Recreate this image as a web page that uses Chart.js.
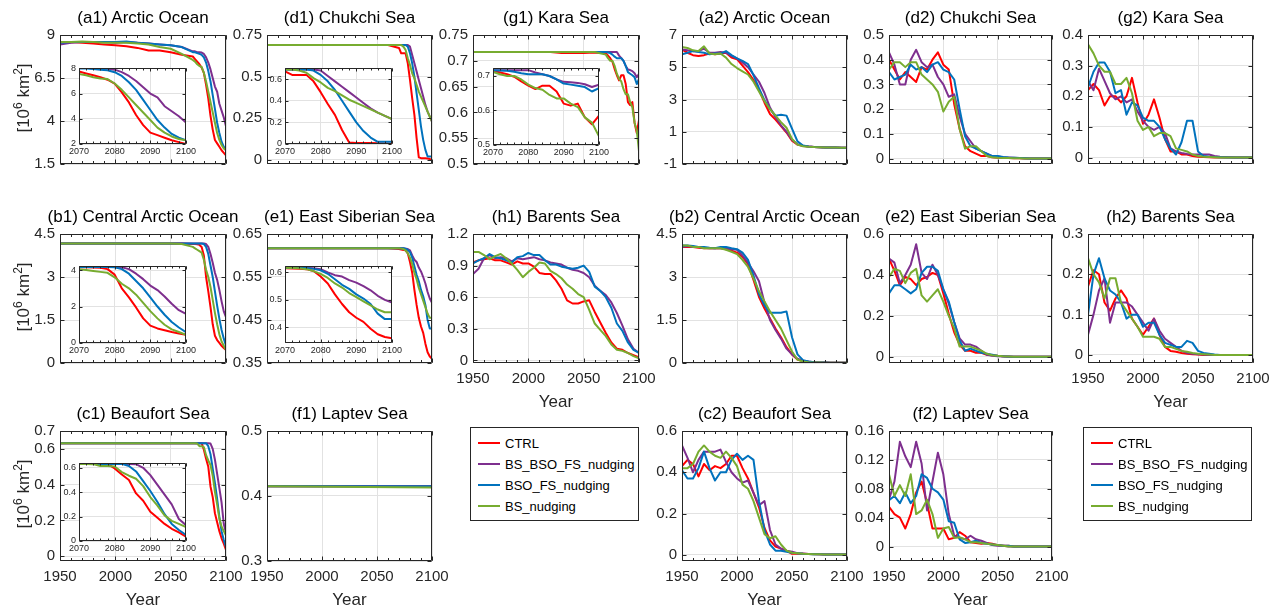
<!DOCTYPE html>
<html><head><meta charset="utf-8">
<script src="https://cdn.jsdelivr.net/npm/chart.js@4.4.1/dist/chart.umd.min.js"></script>
<style>
html,body{margin:0;padding:0;background:#fff;}
body{width:1279px;height:610px;position:relative;overflow:hidden;font-family:"Liberation Sans",Arial,Helvetica,sans-serif;}
canvas{position:absolute;}
.txt{position:absolute;white-space:nowrap;transform:translateX(-50%);}
.ylab{position:absolute;white-space:nowrap;transform:translate(-50%,-50%) rotate(-90deg);font-size:17px;line-height:17px;color:#262626;}
.sup{font-size:12px;position:relative;top:-7px;}
.leg{position:absolute;box-sizing:border-box;border:1px solid #262626;background:#fff;width:169px;height:94px;}
.leg .sw{position:absolute;left:7px;width:22px;height:2px;}
.leg .lt{position:absolute;left:34px;font-size:13px;line-height:13px;color:#000;white-space:nowrap;}
</style></head><body>
<script>
// ---------------- data ----------------
const SERIES_NAMES = ['CTRL','BS_BSO_FS_nudging','BSO_FS_nudging','BS_nudging'];
const SERIES_COLORS = ['#FF0000','#7E2F8E','#0072BD','#77AC30'];

const YEARS_A = [1950,1960,1970,1980,1990,2000,2010,2020,2030,2040,2050,2060,2070,2072,2074,2076,2078,2080,2082,2084,2086,2088,2090,2092,2094,2096,2098,2100];
const YEARS_B = [1950,1955,1960,1965,1970,1975,1980,1985,1990,1995,2000,2005,2010,2015,2020,2025,2030,2035,2040,2045,2050,2055,2060,2065,2070,2075,2080,2085,2090,2095,2100];
const YEARS_F = [1950,2100];

// (a1) Arctic Ocean
const a1_CTRL = [8.55,8.6,8.55,8.5,8.45,8.4,8.35,8.25,8.1,8.1,8.0,7.85,7.75,7.6,7.45,7.3,7.1,6.8,6.1,5.3,4.3,3.5,2.9,2.7,2.5,2.3,2.15,2.0];
const a1_BBF  = [8.45,8.55,8.6,8.6,8.6,8.55,8.6,8.55,8.5,8.45,8.4,8.3,8.05,8.05,8.0,8.0,7.98,7.9,7.7,7.4,7.0,6.5,6.0,5.7,5.0,4.6,4.2,3.7];
const a1_BF   = [8.55,8.6,8.6,8.6,8.6,8.6,8.62,8.55,8.5,8.45,8.4,8.3,8.0,8.0,7.95,7.9,7.85,7.7,7.4,6.9,6.3,5.5,4.7,3.9,3.3,2.8,2.5,2.3];
const a1_BS   = [8.6,8.6,8.62,8.6,8.55,8.55,8.55,8.5,8.45,8.3,8.2,7.9,7.55,7.45,7.3,7.2,7.15,6.8,6.3,5.7,5.1,4.5,3.9,3.3,2.9,2.6,2.4,2.3];
// (d1) Chukchi Sea
const d1_CTRL = [0.69,0.69,0.69,0.69,0.69,0.69,0.69,0.69,0.69,0.69,0.69,0.69,0.672,0.64,0.64,0.64,0.58,0.48,0.37,0.27,0.13,0.015,0.01,0.01,0.01,0.008,0.005,0.003];
const d1_BBF  = [0.69,0.69,0.69,0.69,0.69,0.69,0.69,0.69,0.69,0.69,0.69,0.69,0.69,0.69,0.69,0.69,0.69,0.68,0.63,0.58,0.53,0.48,0.43,0.38,0.33,0.29,0.26,0.23];
const d1_BF   = [0.69,0.69,0.69,0.69,0.69,0.69,0.69,0.69,0.69,0.69,0.69,0.69,0.69,0.69,0.69,0.69,0.68,0.64,0.58,0.5,0.4,0.3,0.2,0.12,0.06,0.02,0.02,0.02];
const d1_BS   = [0.69,0.69,0.69,0.69,0.69,0.69,0.69,0.69,0.69,0.69,0.69,0.69,0.69,0.69,0.68,0.66,0.61,0.57,0.52,0.49,0.45,0.41,0.38,0.35,0.32,0.29,0.26,0.23];
// (g1) Kara Sea
const g1_CTRL = [0.717,0.717,0.717,0.717,0.717,0.717,0.717,0.717,0.715,0.715,0.715,0.716,0.715,0.71,0.705,0.698,0.684,0.672,0.662,0.672,0.672,0.655,0.62,0.614,0.62,0.58,0.56,0.585];
const g1_BBF  = [0.717,0.717,0.717,0.717,0.717,0.717,0.717,0.717,0.717,0.717,0.717,0.717,0.717,0.717,0.717,0.717,0.717,0.717,0.71,0.705,0.70,0.69,0.683,0.682,0.68,0.676,0.668,0.675];
const g1_BF   = [0.717,0.717,0.717,0.717,0.717,0.717,0.717,0.717,0.717,0.717,0.717,0.717,0.717,0.716,0.715,0.712,0.708,0.705,0.705,0.705,0.70,0.69,0.678,0.675,0.672,0.668,0.655,0.665];
const g1_BS   = [0.717,0.717,0.717,0.717,0.717,0.717,0.717,0.717,0.717,0.717,0.717,0.717,0.712,0.705,0.70,0.70,0.69,0.675,0.665,0.66,0.645,0.635,0.635,0.62,0.61,0.58,0.565,0.525];
// (b1) Central Arctic Ocean
const b1_CTRL = [4.17,4.17,4.17,4.17,4.17,4.17,4.17,4.17,4.17,4.17,4.17,4.17,4.15,4.15,4.14,4.12,4.05,3.75,3.0,2.5,1.95,1.35,0.95,0.8,0.7,0.6,0.52,0.45];
const b1_BBF  = [4.17,4.17,4.17,4.17,4.17,4.17,4.17,4.17,4.17,4.17,4.17,4.17,4.17,4.17,4.17,4.17,4.17,4.17,4.15,4.05,3.8,3.5,3.15,2.9,2.55,2.15,1.8,1.6];
const b1_BF   = [4.17,4.17,4.17,4.17,4.17,4.17,4.17,4.17,4.17,4.17,4.17,4.17,4.17,4.17,4.17,4.17,4.17,4.15,4.05,3.8,3.4,3.0,2.5,2.0,1.55,1.15,0.85,0.6];
const b1_BS   = [4.17,4.17,4.17,4.17,4.17,4.17,4.17,4.17,4.17,4.17,4.17,4.15,4.05,4.0,3.95,3.9,3.85,3.6,3.25,3.0,2.65,2.2,1.75,1.35,1.0,0.75,0.6,0.45];
// (e1) East Siberian Sea
const e1_CTRL = [0.617,0.617,0.617,0.617,0.617,0.617,0.617,0.617,0.617,0.617,0.617,0.617,0.615,0.614,0.613,0.612,0.605,0.585,0.56,0.52,0.485,0.455,0.435,0.42,0.395,0.375,0.365,0.36];
const e1_BBF  = [0.617,0.617,0.617,0.617,0.617,0.617,0.617,0.617,0.617,0.617,0.617,0.617,0.617,0.617,0.617,0.616,0.615,0.612,0.6,0.59,0.585,0.572,0.563,0.55,0.535,0.515,0.5,0.49];
const e1_BF   = [0.617,0.617,0.617,0.617,0.617,0.617,0.617,0.617,0.617,0.617,0.617,0.617,0.617,0.617,0.617,0.616,0.613,0.608,0.595,0.575,0.555,0.54,0.52,0.505,0.485,0.45,0.43,0.43];
const e1_BS   = [0.617,0.617,0.617,0.617,0.617,0.617,0.617,0.617,0.617,0.617,0.617,0.617,0.617,0.616,0.615,0.612,0.605,0.595,0.58,0.56,0.545,0.525,0.51,0.495,0.48,0.465,0.455,0.455];
// (c1) Beaufort Sea
const c1_CTRL = [0.632,0.632,0.632,0.632,0.632,0.632,0.632,0.632,0.632,0.632,0.632,0.632,0.632,0.632,0.632,0.632,0.632,0.595,0.545,0.5,0.39,0.33,0.24,0.19,0.14,0.1,0.07,0.035];
const c1_BBF  = [0.632,0.632,0.632,0.632,0.632,0.632,0.632,0.632,0.632,0.632,0.632,0.632,0.632,0.632,0.632,0.632,0.632,0.632,0.632,0.632,0.63,0.6,0.54,0.46,0.38,0.3,0.18,0.13];
const c1_BF   = [0.632,0.632,0.632,0.632,0.632,0.632,0.632,0.632,0.632,0.632,0.632,0.632,0.632,0.632,0.632,0.632,0.632,0.632,0.632,0.615,0.57,0.49,0.41,0.32,0.22,0.14,0.09,0.05];
const c1_BS   = [0.632,0.632,0.632,0.632,0.632,0.632,0.632,0.632,0.632,0.632,0.632,0.632,0.632,0.632,0.63,0.615,0.615,0.61,0.565,0.535,0.51,0.45,0.36,0.29,0.21,0.165,0.14,0.115];
// (f1) Laptev Sea
const f1_CTRL = [0.415,0.415];
const f1_BBF  = [0.415,0.415];
const f1_BF   = [0.415,0.415];
const f1_BS   = [0.415,0.413];
// (h1) Barents Sea
const h1_CTRL = [0.93,0.95,0.96,0.97,0.95,0.95,0.93,0.91,0.94,0.92,0.92,0.89,0.83,0.82,0.82,0.76,0.68,0.57,0.54,0.54,0.56,0.57,0.46,0.36,0.26,0.17,0.11,0.1,0.07,0.05,0.03];
const h1_BBF  = [0.82,0.87,0.97,1.0,0.97,0.98,0.97,0.94,0.97,0.96,0.97,0.98,0.96,0.95,0.93,0.92,0.91,0.88,0.86,0.85,0.83,0.79,0.71,0.66,0.62,0.55,0.45,0.33,0.2,0.11,0.07];
const h1_BF   = [0.92,0.95,0.97,1.01,0.98,0.97,0.95,0.93,0.98,0.99,1.02,1.0,1.0,0.95,0.91,0.91,0.89,0.88,0.87,0.88,0.9,0.84,0.7,0.66,0.6,0.5,0.35,0.28,0.17,0.1,0.07];
const h1_BS   = [1.03,1.03,1.0,0.96,0.99,1.01,0.97,0.92,0.86,0.79,0.84,0.88,0.93,0.92,0.85,0.82,0.78,0.72,0.68,0.63,0.6,0.48,0.35,0.29,0.23,0.15,0.1,0.09,0.07,0.04,0.02];
// (a2) Arctic Ocean
const a2_CTRL = [6.1,5.9,5.75,5.7,5.75,5.85,5.8,5.85,5.9,5.6,5.5,5.1,4.7,4.2,3.6,2.8,2.1,1.75,1.35,0.95,0.45,0.2,0.12,0.08,0.05,0.04,0.03,0.02,0.02,0.01,0.01];
const a2_BBF  = [6.1,6.05,6.0,6.0,6.15,5.9,5.9,5.95,5.9,5.7,5.55,5.3,5.0,4.55,4.1,3.4,2.5,1.9,1.4,1.0,0.5,0.22,0.13,0.08,0.05,0.04,0.03,0.02,0.02,0.01,0.01];
const a2_BF   = [5.8,5.9,6.0,5.95,5.9,5.8,5.85,5.85,6.0,5.75,5.55,5.4,5.2,4.5,3.7,2.95,2.4,2.0,2.05,2.0,1.2,0.4,0.15,0.09,0.06,0.04,0.03,0.02,0.02,0.01,0.01];
const a2_BS   = [6.25,6.2,6.05,6.0,6.3,5.85,5.8,5.85,5.6,5.2,4.95,4.75,4.55,4.1,3.5,2.9,2.4,2.0,1.6,1.25,0.55,0.2,0.1,0.07,0.05,0.04,0.03,0.02,0.02,0.01,0.01];
// (b2) Central Arctic Ocean
const b2_CTRL = [4.05,4.05,4.05,4.02,4.0,4.0,4.0,4.0,3.97,3.92,3.85,3.7,3.45,2.9,2.3,1.9,1.55,1.2,0.9,0.55,0.3,0.12,0.06,0.04,0.03,0.02,0.02,0.01,0.01,0.01,0.01];
const b2_BBF  = [4.05,4.08,4.05,4.05,4.02,4.0,4.0,4.0,4.0,3.97,3.95,3.75,3.5,3.2,2.85,2.1,1.5,1.15,0.85,0.5,0.3,0.15,0.08,0.05,0.03,0.02,0.02,0.01,0.01,0.01,0.01];
const b2_BF   = [4.1,4.1,4.08,4.05,4.05,4.02,4.0,4.05,4.05,4.0,3.97,3.85,3.6,3.05,2.4,2.0,1.75,1.75,1.75,1.8,0.9,0.3,0.1,0.05,0.03,0.02,0.02,0.01,0.01,0.01,0.01];
const b2_BS   = [4.1,4.1,4.05,4.05,4.0,4.0,4.0,4.0,3.95,3.88,3.8,3.6,3.35,2.95,2.5,2.15,1.8,1.5,1.2,0.8,0.4,0.12,0.05,0.03,0.02,0.02,0.01,0.01,0.01,0.01,0.01];
// (c2) Beaufort Sea
const c2_CTRL = [0.43,0.46,0.44,0.38,0.44,0.41,0.43,0.42,0.44,0.48,0.48,0.42,0.37,0.3,0.23,0.13,0.07,0.04,0.03,0.02,0.005,0.005,0.005,0.004,0.004,0.003,0.002,0.002,0.001,0.001,0.001];
const c2_BBF  = [0.53,0.47,0.4,0.46,0.5,0.5,0.5,0.51,0.45,0.4,0.37,0.35,0.36,0.3,0.24,0.26,0.12,0.05,0.03,0.02,0.015,0.008,0.006,0.004,0.003,0.003,0.002,0.002,0.001,0.001,0.001];
const c2_BF   = [0.41,0.37,0.37,0.42,0.5,0.42,0.36,0.4,0.4,0.46,0.49,0.46,0.48,0.46,0.26,0.12,0.05,0.02,0.02,0.015,0.01,0.008,0.005,0.004,0.003,0.003,0.002,0.002,0.001,0.001,0.001];
const c2_BS   = [0.42,0.42,0.44,0.5,0.53,0.5,0.48,0.47,0.5,0.47,0.43,0.34,0.32,0.26,0.18,0.1,0.08,0.09,0.05,0.02,0.01,0.008,0.005,0.004,0.003,0.003,0.002,0.002,0.001,0.001,0.001];
// (d2) Chukchi Sea
const d2_CTRL = [0.4,0.36,0.32,0.35,0.33,0.31,0.37,0.36,0.4,0.43,0.38,0.36,0.22,0.12,0.05,0.03,0.02,0.01,0.01,0.005,0.003,0.002,0.002,0.001,0.001,0,0,0,0,0,0];
const d2_BBF  = [0.43,0.38,0.3,0.3,0.4,0.44,0.39,0.37,0.38,0.33,0.3,0.25,0.26,0.17,0.1,0.07,0.04,0.03,0.02,0.01,0.008,0.005,0.004,0.003,0.002,0.001,0,0,0,0,0];
const d2_BF   = [0.35,0.32,0.33,0.34,0.38,0.36,0.37,0.35,0.38,0.39,0.36,0.35,0.32,0.2,0.09,0.05,0.04,0.03,0.02,0.01,0.01,0.006,0.004,0.003,0.002,0.001,0,0,0,0,0];
const d2_BS   = [0.36,0.39,0.39,0.37,0.39,0.39,0.34,0.32,0.3,0.27,0.19,0.23,0.25,0.12,0.04,0.05,0.05,0.03,0.01,0.005,0.003,0.002,0.002,0.001,0.001,0,0,0,0,0,0];
// (e2) East Siberian Sea
const e2_CTRL = [0.48,0.42,0.35,0.39,0.38,0.35,0.38,0.39,0.41,0.4,0.31,0.21,0.12,0.06,0.03,0.03,0.02,0.02,0.01,0.008,0.005,0.003,0.002,0.001,0,0,0,0,0,0,0];
const e2_BBF  = [0.48,0.46,0.36,0.4,0.45,0.55,0.41,0.38,0.45,0.4,0.33,0.26,0.17,0.09,0.06,0.06,0.05,0.03,0.01,0.005,0.003,0.002,0.001,0,0,0,0,0,0,0,0];
const e2_BF   = [0.31,0.35,0.35,0.33,0.31,0.33,0.41,0.44,0.44,0.42,0.33,0.27,0.17,0.08,0.03,0.04,0.03,0.02,0.015,0.01,0.005,0.003,0.002,0.001,0,0,0,0,0,0,0];
const e2_BS   = [0.39,0.43,0.42,0.36,0.41,0.43,0.3,0.27,0.3,0.33,0.27,0.2,0.14,0.05,0.05,0.05,0.04,0.03,0.015,0.008,0.005,0.003,0.002,0.001,0,0,0,0,0,0,0];
// (f2) Laptev Sea
const f2_CTRL = [0.055,0.045,0.04,0.025,0.045,0.075,0.09,0.06,0.025,0.025,0.025,0.01,0.012,0.02,0.015,0.006,0.005,0.004,0.005,0.004,0.002,0.001,0.001,0,0,0,0,0,0,0,0];
const f2_BBF  = [0.065,0.09,0.145,0.125,0.11,0.145,0.115,0.05,0.09,0.13,0.1,0.045,0.015,0.012,0.01,0.015,0.01,0.008,0.005,0.002,0.001,0.001,0,0,0,0,0,0,0,0,0];
const f2_BF   = [0.064,0.07,0.06,0.075,0.06,0.07,0.1,0.095,0.08,0.075,0.065,0.035,0.033,0.01,0.005,0.006,0.008,0.005,0.004,0.003,0.002,0.001,0.001,0,0,0,0,0,0,0,0];
const f2_BS   = [0.1,0.07,0.085,0.07,0.1,0.045,0.05,0.065,0.045,0.012,0.025,0.027,0.012,0.013,0.01,0.006,0.006,0.005,0.004,0.003,0.002,0.001,0,0,0,0,0,0,0,0,0];
// (g2) Kara Sea
const g2_CTRL = [0.22,0.24,0.22,0.17,0.2,0.2,0.18,0.2,0.26,0.18,0.11,0.14,0.19,0.13,0.06,0.02,0.02,0.01,0.01,0.005,0.003,0.002,0.001,0,0,0,0,0,0,0,0];
const g2_BBF  = [0.25,0.22,0.29,0.25,0.21,0.19,0.2,0.18,0.19,0.15,0.12,0.1,0.09,0.1,0.08,0.03,0.02,0.015,0.012,0.01,0.01,0.01,0.01,0.005,0.003,0.002,0.001,0,0,0,0];
const g2_BF   = [0.23,0.28,0.31,0.31,0.28,0.21,0.22,0.14,0.18,0.17,0.13,0.12,0.12,0.1,0.06,0.03,0.01,0.05,0.12,0.12,0.02,0.005,0.003,0.002,0.001,0,0,0,0,0,0];
const g2_BS   = [0.37,0.34,0.3,0.28,0.28,0.24,0.24,0.26,0.21,0.12,0.09,0.1,0.07,0.08,0.08,0.07,0.03,0.025,0.02,0.01,0.005,0.003,0.002,0.001,0,0,0,0,0,0,0];
// (h2) Barents Sea
const h2_CTRL = [0.17,0.21,0.2,0.13,0.11,0.14,0.16,0.14,0.09,0.07,0.05,0.07,0.09,0.05,0.02,0.01,0.008,0.005,0.003,0.002,0.001,0,0,0,0,0,0,0,0,0,0];
const h2_BBF  = [0.05,0.1,0.16,0.19,0.08,0.13,0.13,0.13,0.12,0.1,0.08,0.06,0.09,0.06,0.04,0.03,0.02,0.01,0.005,0.003,0.002,0.001,0,0,0,0,0,0,0,0,0];
const h2_BF   = [0.1,0.2,0.24,0.19,0.16,0.15,0.13,0.09,0.1,0.1,0.07,0.08,0.08,0.05,0.03,0.025,0.02,0.02,0.035,0.03,0.01,0.005,0.003,0.001,0,0,0,0,0,0,0];
const h2_BS   = [0.24,0.2,0.18,0.14,0.19,0.19,0.13,0.11,0.09,0.07,0.045,0.045,0.045,0.04,0.02,0.02,0.015,0.01,0.008,0.005,0.003,0.002,0.001,0,0,0,0,0,0,0,0];

// tick values
const X_TICKS = [1950,2000,2050,2100];
const X_TICKS_INSET = [2070,2080,2090,2100];
const YT_a1 = [1.5,4,6.5,9];
const YT_d1 = [0,0.25,0.5,0.75];
const YT_g1 = [0.5,0.55,0.6,0.65,0.7,0.75];
const YT_a2 = [-1,1,3,5,7];
const YT_d2 = [0,0.1,0.2,0.3,0.4,0.5];
const YT_g2 = [0,0.1,0.2,0.3,0.4];
const YT_b1 = [0,1.5,3,4.5];
const YT_e1 = [0.35,0.45,0.55,0.65];
const YT_h1 = [0,0.3,0.6,0.9,1.2];
const YT_b2 = [0,1.5,3,4.5];
const YT_e2 = [0,0.2,0.4,0.6];
const YT_h2 = [0,0.1,0.2,0.3];
const YT_c1 = [0,0.2,0.4,0.6,0.7];
const YT_f1 = [0.3,0.4,0.5];
const YT_c2 = [0,0.2,0.4,0.6];
const YT_f2 = [0,0.04,0.08,0.12,0.16];
const YT_a1i = [2,4,6,8];
const YT_d1i = [0,0.2,0.4,0.6];
const YT_g1i = [0.5,0.6,0.7];
const YT_b1i = [0,2,4];
const YT_e1i = [0.4,0.5,0.6];
const YT_c1i = [0,0.2,0.4,0.6];

// ---------------- layout ----------------
const COLX = [60,267,473,682,889,1088];
const COLW = [166,165,166,165,163,165];
const ROWY = [31,230,427];
const ROWH = [133,133,134];
const AXIS = '#262626', GRID = '#e2e2e2';
const FONT = '"Liberation Sans", Arial, Helvetica, sans-serif';

const PANELS = [
  {t:'(a1) Arctic Ocean', c:0, r:0, yr:YEARS_A, s:[a1_CTRL,a1_BBF,a1_BF,a1_BS], ymin:1.5, ymax:9, yt:YT_a1, xl:false,
   inset:{box:[79,68,107,76], ymin:2, ymax:8, yt:YT_a1i}},
  {t:'(d1) Chukchi Sea', c:1, r:0, yr:YEARS_A, s:[d1_CTRL,d1_BBF,d1_BF,d1_BS], ymin:-0.025, ymax:0.75, yt:YT_d1, xl:false,
   inset:{box:[285,68,107,76], ymin:0, ymax:0.7, yt:YT_d1i}},
  {t:'(g1) Kara Sea', c:2, r:0, yr:YEARS_A, s:[g1_CTRL,g1_BBF,g1_BF,g1_BS], ymin:0.5, ymax:0.75, yt:YT_g1, xl:false,
   inset:{box:[493,68,106,77], ymin:0.5, ymax:0.722, yt:YT_g1i}},
  {t:'(a2) Arctic Ocean', c:3, r:0, yr:YEARS_B, s:[a2_CTRL,a2_BBF,a2_BF,a2_BS], ymin:-1, ymax:7, yt:YT_a2, xl:false},
  {t:'(d2) Chukchi Sea', c:4, r:0, yr:YEARS_B, s:[d2_CTRL,d2_BBF,d2_BF,d2_BS], ymin:-0.022, ymax:0.5, yt:YT_d2, xl:false},
  {t:'(g2) Kara Sea', c:5, r:0, yr:YEARS_B, s:[g2_CTRL,g2_BBF,g2_BF,g2_BS], ymin:-0.021, ymax:0.4, yt:YT_g2, xl:false},
  {t:'(b1) Central Arctic Ocean', c:0, r:1, yr:YEARS_A, s:[b1_CTRL,b1_BBF,b1_BF,b1_BS], ymin:0, ymax:4.5, yt:YT_b1, xl:false,
   inset:{box:[79,266,107,77], ymin:0, ymax:4.2, yt:YT_b1i}},
  {t:'(e1) East Siberian Sea', c:1, r:1, yr:YEARS_A, s:[e1_CTRL,e1_BBF,e1_BF,e1_BS], ymin:0.35, ymax:0.65, yt:YT_e1, xl:false,
   inset:{box:[285,266,107,77], ymin:0.343, ymax:0.622, yt:YT_e1i}},
  {t:'(h1) Barents Sea', c:2, r:1, yr:YEARS_B, s:[h1_CTRL,h1_BBF,h1_BF,h1_BS], ymin:-0.025, ymax:1.2, yt:YT_h1, xl:true},
  {t:'(b2) Central Arctic Ocean', c:3, r:1, yr:YEARS_B, s:[b2_CTRL,b2_BBF,b2_BF,b2_BS], ymin:0, ymax:4.5, yt:YT_b2, xl:false},
  {t:'(e2) East Siberian Sea', c:4, r:1, yr:YEARS_B, s:[e2_CTRL,e2_BBF,e2_BF,e2_BS], ymin:-0.03, ymax:0.6, yt:YT_e2, xl:false},
  {t:'(h2) Barents Sea', c:5, r:1, yr:YEARS_B, s:[h2_CTRL,h2_BBF,h2_BF,h2_BS], ymin:-0.02, ymax:0.3, yt:YT_h2, xl:true},
  {t:'(c1) Beaufort Sea', c:0, r:2, yr:YEARS_A, s:[c1_CTRL,c1_BBF,c1_BF,c1_BS], ymin:-0.027, ymax:0.7, yt:YT_c1, xl:true,
   inset:{box:[79,463,107,78], ymin:0, ymax:0.636, yt:YT_c1i}},
  {t:'(f1) Laptev Sea', c:1, r:2, yr:YEARS_F, s:[f1_CTRL,f1_BBF,f1_BF,f1_BS], ymin:0.3, ymax:0.5, yt:YT_f1, xl:true},
  {t:'(c2) Beaufort Sea', c:3, r:2, yr:YEARS_B, s:[c2_CTRL,c2_BBF,c2_BF,c2_BS], ymin:-0.03, ymax:0.6, yt:YT_c2, xl:true},
  {t:'(f2) Laptev Sea', c:4, r:2, yr:YEARS_B, s:[f2_CTRL,f2_BBF,f2_BF,f2_BS], ymin:-0.02, ymax:0.16, yt:YT_f2, xl:true}
];

// ---------------- plugin: MATLAB-like box with inward ticks ----------------
const framePlugin = {
  id: 'frame',
  beforeDraw(chart, args, o) {
    if (!o || !o.fill) return;
    const ca = chart.chartArea, ctx = chart.ctx;
    ctx.save(); ctx.fillStyle = '#fff';
    ctx.fillRect(ca.left, ca.top, ca.right - ca.left, ca.bottom - ca.top);
    ctx.restore();
  },
  afterDraw(chart, args, o) {
    const ctx = chart.ctx, ca = chart.chartArea, xs = chart.scales.x, ys = chart.scales.y;
    const l = Math.round(ca.left) + 0.5, r = Math.round(ca.right) - 0.5;
    const t = Math.round(ca.top) + 0.5, b = Math.round(ca.bottom) - 0.5;
    const snap = v => Math.round(v) + 0.5;
    ctx.save();
    ctx.strokeStyle = AXIS; ctx.lineWidth = 1;
    ctx.beginPath();
    const vt = (px, len) => { ctx.moveTo(px, b); ctx.lineTo(px, b - len); ctx.moveTo(px, t); ctx.lineTo(px, t + len); };
    const ht = (py, len) => { ctx.moveTo(l, py); ctx.lineTo(l + len, py); ctx.moveTo(r, py); ctx.lineTo(r - len, py); };
    if (o.xMinor) {
      for (let v = xs.min; v <= xs.max + 1e-9; v += o.xMinor) vt(snap(xs.getPixelForValue(v)), o.minor);
    }
    xs.ticks.forEach(tk => vt(snap(xs.getPixelForValue(tk.value)), o.major));
    ys.ticks.forEach(tk => ht(snap(ys.getPixelForValue(tk.value)), o.major));
    ctx.moveTo(l, t); ctx.lineTo(r, t); ctx.lineTo(r, b); ctx.lineTo(l, b); ctx.closePath();
    ctx.stroke();
    ctx.restore();
  }
};
Chart.register(framePlugin);

function makeChart(left, top, w, h, cfg) {
  const ins = !!cfg.inset;
  const padL = ins ? 30 : 50, padT = ins ? 8 : 10, padR = ins ? 12 : 25, padB = ins ? 18 : 35;
  const cv = document.createElement('canvas');
  cv.width = w + padL + padR; cv.height = h + padT + padB;
  cv.style.left = (left - padL) + 'px'; cv.style.top = (top - padT) + 'px';
  document.body.appendChild(cv);
  const fsz = ins ? 9 : 15;
  const datasets = SERIES_NAMES.map((nm, k) => ({
    label: nm,
    data: cfg.years.map((x, i) => ({x: x, y: cfg.series[k][i]})),
    borderColor: SERIES_COLORS[k], backgroundColor: SERIES_COLORS[k],
    borderWidth: 2, pointRadius: 0, tension: 0, fill: false, order: 4 - k
  }));
  return new Chart(cv, {
    type: 'line',
    data: {datasets},
    options: {
      responsive: false, animation: false, devicePixelRatio: 1, events: [],
      layout: {padding: {left: 0, top: padT, right: padR, bottom: 0}},
      plugins: {legend: {display: false}, tooltip: {enabled: false}, title: {display: false},
        frame: {fill: ins, major: ins ? 3 : 4, minor: ins ? 2 : 2.5, xMinor: ins ? 2 : 10}},
      elements: {point: {radius: 0}, line: {borderJoinStyle: 'round', borderCapStyle: 'butt'}},
      scales: {
        x: {type: 'linear', min: cfg.xmin, max: cfg.xmax,
          afterBuildTicks: s => { s.ticks = cfg.xt.map(v => ({value: v})); },
          afterFit: s => { s.height = padB; },
          ticks: {display: cfg.showX, autoSkip: false, maxRotation: 0, minRotation: 0, padding: ins ? 2 : 7,
            color: AXIS, font: {family: FONT, size: fsz}, callback: v => String(v)},
          grid: {color: GRID, lineWidth: 1, drawTicks: false}, border: {display: false}},
        y: {type: 'linear', min: cfg.ymin, max: cfg.ymax,
          afterBuildTicks: s => { s.ticks = cfg.yt.map(v => ({value: v})); },
          afterFit: s => { s.width = padL; },
          ticks: {autoSkip: false, padding: ins ? 3 : 5, color: AXIS, font: {family: FONT, size: fsz}, callback: v => String(v)},
          grid: {color: GRID, lineWidth: 1, drawTicks: false}, border: {display: false}}
      }
    }
  });
}

function addText(html, cx, baseline, size, color) {
  const d = document.createElement('div');
  d.className = 'txt';
  d.style.fontSize = size + 'px'; d.style.lineHeight = size + 'px';
  d.style.left = cx + 'px'; d.style.top = (baseline - 0.8465 * size) + 'px';
  d.style.color = color;
  d.innerHTML = html;
  document.body.appendChild(d);
}

// main panels
PANELS.forEach(p => {
  const L = COLX[p.c], T = ROWY[p.r], W = COLW[p.c], H = ROWH[p.r];
  makeChart(L, T, W, H, {years: p.yr, series: p.s, xmin: 1950, xmax: 2100, xt: X_TICKS, ymin: p.ymin, ymax: p.ymax, yt: p.yt, showX: p.xl});
  addText(p.t, L + W / 2, T - 8, 17, '#000');
  if (p.xl) addText('Year', L + W / 2, T + H + 44, 17, AXIS);
});
// insets
PANELS.filter(p => p.inset).forEach(p => {
  const b = p.inset.box;
  makeChart(b[0], b[1], b[2], b[3], {inset: true, years: p.yr, series: p.s, xmin: 2070, xmax: 2100, xt: X_TICKS_INSET,
    ymin: p.inset.ymin, ymax: p.inset.ymax, yt: p.inset.yt, showX: true});
});

// y-axis labels
ROWY.forEach((T, r) => {
  const d = document.createElement('div');
  d.className = 'ylab';
  d.style.left = '24px'; d.style.top = (T + ROWH[r] / 2) + 'px';
  d.innerHTML = '[10<span class="sup">6</span> km<span class="sup">2</span>]';
  document.body.appendChild(d);
});

// legends
function addLegend(x, y) {
  const box = document.createElement('div');
  box.className = 'leg'; box.style.left = x + 'px'; box.style.top = y + 'px';
  const rows = [16, 37, 58, 79];
  SERIES_NAMES.forEach((nm, k) => {
    const sw = document.createElement('div');
    sw.className = 'sw'; sw.style.top = (rows[k] - 2) + 'px'; sw.style.background = SERIES_COLORS[k];
    box.appendChild(sw);
    const tx = document.createElement('div');
    tx.className = 'lt'; tx.style.top = (rows[k] - 7) + 'px'; tx.textContent = nm;
    box.appendChild(tx);
  });
  document.body.appendChild(box);
}
addLegend(470, 427);
addLegend(1083, 427);
</script>
</body></html>
